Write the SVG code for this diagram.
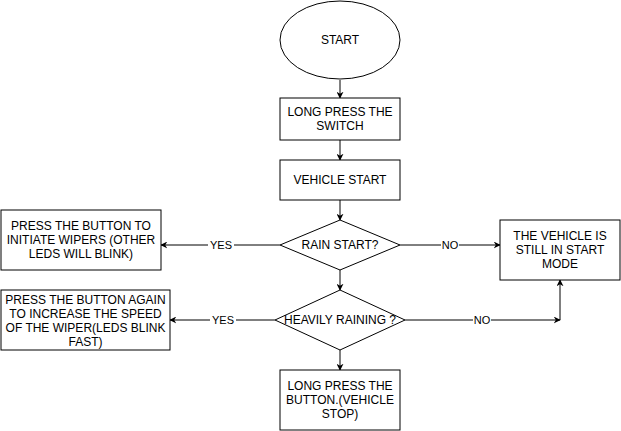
<svg xmlns="http://www.w3.org/2000/svg" width="621" height="431" viewBox="0 0 621 431">
<defs>
<marker id="arr" viewBox="0 0 10 10" refX="9" refY="5" markerWidth="7" markerHeight="7" markerUnits="userSpaceOnUse" orient="auto">
<path d="M0,0 L10,5 L0,10 L3,5 Z" fill="#000"/>
</marker>
<style>
.shape{fill:#fff;stroke:#000;stroke-width:1}
.t{font-family:"Liberation Sans",Arial,sans-serif;font-size:12px;fill:#000;text-anchor:middle}
.lbl{font-family:"Liberation Sans",Arial,sans-serif;font-size:11px;fill:#000;text-anchor:middle;dominant-baseline:central}
.edge{fill:none;stroke:#000;stroke-width:1;marker-end:url(#arr)}
.lblbg{fill:#fff}
</style>
</defs>
<rect width="621" height="431" fill="#fff"/>
<g id="connectors">
<path class="edge" d="M340,80 L340,98"/>
<path class="edge" d="M340,140 L340,160"/>
<path class="edge" d="M340,200 L340,220"/>
<path class="edge" d="M340,270 L340,290"/>
<path class="edge" d="M340,350 L340,370"/>
<path class="edge" d="M280,245 L161,245"/>
<path class="edge" d="M400,245 L500,245"/>
<path class="edge" d="M275,320 L170,320"/>
<path class="edge" d="M405,320 L560,320"/>
<path class="edge" d="M560,320 L560,280"/>
<rect class="lblbg" x="208" y="239" width="26" height="12"/>
<text class="lbl" x="221" y="245">YES</text>
<rect class="lblbg" x="441" y="239" width="18" height="12"/>
<text class="lbl" x="450" y="245">NO</text>
<rect class="lblbg" x="210" y="314" width="26" height="12"/>
<text class="lbl" x="223" y="320">YES</text>
<rect class="lblbg" x="473" y="314" width="18" height="12"/>
<text class="lbl" x="482" y="320">NO</text>
</g>
<g id="start">
<ellipse class="shape" cx="340" cy="40" rx="60" ry="39"/>
<text class="t" x="340" y="44">START</text>
</g>
<g id="long-press-switch">
<rect class="shape" x="280" y="98" width="120" height="42"/>
<text class="t" x="340" y="116">LONG PRESS THE</text>
<text class="t" x="340" y="130">SWITCH</text>
</g>
<g id="vehicle-start">
<rect class="shape" x="280" y="160" width="120" height="40"/>
<text class="t" x="340" y="184">VEHICLE START</text>
</g>
<g id="rain-start">
<path class="shape" d="M340,220 L400,245 L340,270 L280,245 Z"/>
<text class="t" x="340" y="249">RAIN START?</text>
</g>
<g id="heavily-raining">
<path class="shape" d="M340,290 L405,320 L340,350 L275,320 Z"/>
<text class="t" x="340" y="324">HEAVILY RAINING ?</text>
</g>
<g id="initiate-wipers">
<rect class="shape" x="1" y="210" width="160" height="60"/>
<text class="t" x="81" y="230">PRESS THE BUTTON TO</text>
<text class="t" x="81" y="244">INITIATE WIPERS (OTHER</text>
<text class="t" x="81" y="258">LEDS WILL BLINK)</text>
</g>
<g id="increase-speed">
<rect class="shape" x="1" y="290" width="169" height="60"/>
<text class="t" x="85.5" y="304">PRESS THE BUTTON AGAIN</text>
<text class="t" x="85.5" y="318">TO INCREASE THE SPEED</text>
<text class="t" x="85.5" y="332">OF THE WIPER(LEDS BLINK</text>
<text class="t" x="85.5" y="346">FAST)</text>
</g>
<g id="still-start-mode">
<rect class="shape" x="500" y="220" width="120" height="60"/>
<text class="t" x="560" y="240">THE VEHICLE IS</text>
<text class="t" x="560" y="254">STILL IN START</text>
<text class="t" x="560" y="268">MODE</text>
</g>
<g id="vehicle-stop">
<rect class="shape" x="280" y="370" width="120" height="60"/>
<text class="t" x="340" y="390">LONG PRESS THE</text>
<text class="t" x="340" y="404">BUTTON.(VEHICLE</text>
<text class="t" x="340" y="418">STOP)</text>
</g>
</svg>
